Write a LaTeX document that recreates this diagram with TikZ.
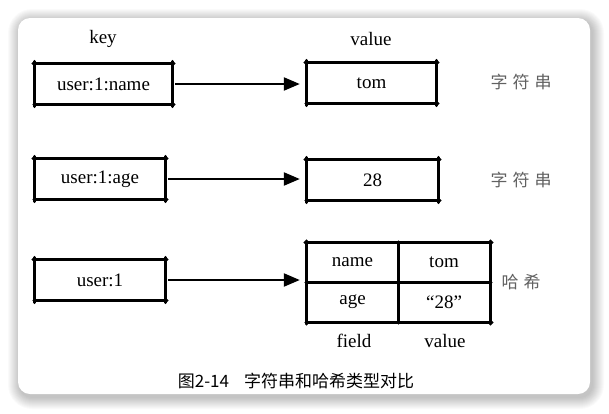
\documentclass[tikz,border=0pt]{standalone}
\usepackage{fontspec}
\setmainfont{Liberation Serif}
\newfontfamily\cjk{Noto Sans CJK SC}
\usetikzlibrary{arrows.meta}
\newcommand\skbox[1]{%
  \draw[sk] ([xshift=-2pt]#1.north west) -- ([xshift=2pt]#1.north east);
  \draw[sk] ([xshift=-1pt]#1.south west) -- ([xshift=2pt]#1.south east);
  \draw[sk] ([yshift=2pt]#1.north west) -- ([yshift=-2pt]#1.south west);
  \draw[sk] ([yshift=2pt]#1.north east) -- ([yshift=-2pt]#1.south east);}
\begin{document}
\begin{tikzpicture}[x=1pt,y=-1pt,
  sk/.style={line width=2.8pt, line cap=round, black},
  box/.style={minimum width=#1, minimum height=41pt, inner sep=0pt, font=\fontsize{19}{22}\selectfont},
  lbl/.style={inner sep=0pt, font=\fontsize{19}{22}\selectfont},
  zh/.style={inner sep=0pt, text=black!62, font=\cjk\fontsize{17}{19}\selectfont},
  arr/.style={line width=2.2pt, -{Triangle[length=16pt,width=13pt]}, shorten <=3pt, shorten >=7pt}]
\useasboundingbox (0,0) rectangle (609,413);
\fill[white] (0,0) rectangle (609,413);
% card shadow
\foreach \i in {1,...,12}{
  \pgfmathsetmacro\r{12+\i}
  \fill[black, opacity=0.018, rounded corners=\r pt] ({18-\i+2},{18-\i+3}) rectangle ({590+\i+2},{394+\i+3});
}
\fill[white, rounded corners=12pt] (18,18) rectangle (590,394);

% headers
\node[lbl] (hk) at (103,39) {key};
\node[lbl] (hv) at (371,39) {value};

% keys
\node[box=137pt] (k1) at (103.5,84) {user:1:name};
\node[box=130pt] (k2) at (100,179) {user:1:age};
\node[box=130pt] (k3) at (100,280) {user:1};
\skbox{k1}\skbox{k2}\skbox{k3}

% values
\node[box=129pt] (v1) at (371.5,83) {tom};
\node[box=131pt] (v2) at (372.5,180) {28};
\skbox{v1}\skbox{v2}

% hash table
\node[box=91pt, minimum height=39pt] (c11) at (352.5,262.5) {name};
\node[box=92pt, minimum height=39pt] (c12) at (444,262.5) {tom};
\node[box=91pt, minimum height=40pt] (c21) at (352.5,302) {age};
\node[box=92pt, minimum height=40pt] (c22) at (444,302) {``28''};
\draw[sk] ([xshift=-2pt]c11.north west) -- ([xshift=2pt]c12.north east);
\draw[sk] ([xshift=-1pt]c11.south west) -- ([xshift=1pt]c12.south east);
\draw[sk] ([xshift=-1pt]c21.south west) -- ([xshift=2pt]c22.south east);
\draw[sk] ([yshift=2pt]c11.north west) -- ([yshift=-2pt]c21.south west);
\draw[sk] ([yshift=1pt]c11.north east) -- ([yshift=-1pt]c21.south east);
\draw[sk] ([yshift=2pt]c12.north east) -- ([yshift=-2pt]c22.south east);
\node[lbl] (hf) at (354,341) {field};
\node[lbl] (hv2) at (445,341) {value};

% arrows
\draw[arr] (k1.east) -- (v1.west |- k1.east);
\draw[arr] (k2.east) -- (v2.west |- k2.east);
\draw[arr] (k3.east) -- (c21.north west |- k3.east);

% type labels
\node[zh] (t1) at (521,82) {字\hspace{5pt}符\hspace{5pt}串};
\node[zh] (t2) at (521,180) {字\hspace{5pt}符\hspace{5pt}串};
\node[zh] (t3) at (521,282) {哈\hspace{5pt}希};

% caption
\node[inner sep=0pt, font=\cjk\fontsize{17}{19}\selectfont] (cap) at (296,381) {图2-14\hspace{15pt}字符串和哈希类型对比};
\end{tikzpicture}
\end{document}
